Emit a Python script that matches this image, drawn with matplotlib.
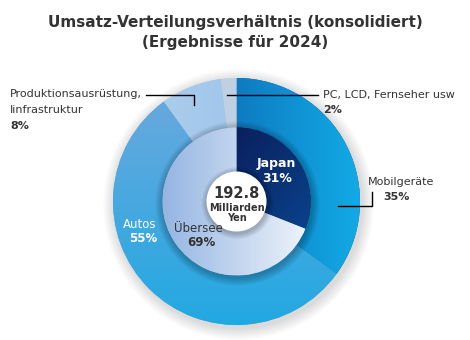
import numpy as np
import matplotlib
matplotlib.use("Agg")
import matplotlib.pyplot as plt
from matplotlib.colors import LinearSegmentedColormap
from matplotlib.patches import Circle

# ---- data ----
title_lines = ["Umsatz-Verteilungsverhältnis (konsolidiert)", "(Ergebnisse für 2024)"]
outer_labels = ["Mobilgeräte", "Autos", "Produktionsausrüstung,\nIinfrastruktur", "PC, LCD, Fernseher usw"]
outer_values = [35, 55, 8, 2]
inner_labels = ["Japan", "Übersee"]
inner_values = [31, 69]
total_value = "192.8"
total_unit = "Milliarden\nYen"

# ---- styling ----
W, H = 470, 340
cx, cy = 236.5, H - 201.5
R_out, R_mid, R_in = 123.5, 74.0, 30.0
outer_grads = [("#0a4c9c", "#12aae6", 0), ("#6ea9dd", "#22a8e2", -90),
               ("#b3d1ee", "#8cbbe6", 0), ("#c6d5e5", "#b8cbe0", 0)]
inner_grads = [("#0a1048", "#0b4a96", -40), ("#95b6e2", "#f0f5fb", 0)]
txt = "#333333"

fig = plt.figure(figsize=(W / 100, H / 100), dpi=100)
ax = fig.add_axes([0, 0, 1, 1])


def grad_fill(patch, c1, c2, ang, R, z):
    n = 200
    xs = np.linspace(cx - R, cx + R, n)
    ys = np.linspace(cy - R, cy + R, n)
    X, Y = np.meshgrid(xs, ys)
    a = np.deg2rad(ang)
    t = (X - cx) * np.cos(a) + (Y - cy) * np.sin(a)
    t = (t - t.min()) / (t.max() - t.min())
    cmap = LinearSegmentedColormap.from_list("g", [c1, c2])
    im = ax.imshow(t, cmap=cmap, extent=(cx - R, cx + R, cy - R, cy + R),
                   origin="lower", zorder=z, interpolation="bilinear")
    im.set_clip_path(patch)


# drop shadow behind outer ring
for i in range(12):
    ax.add_patch(Circle((cx + 2, cy - 3), R_out + 12 - i, color="black",
                        alpha=0.012, lw=0, zorder=0))

w_out, _ = ax.pie(outer_values, radius=R_out, center=(cx, cy), startangle=90,
                  counterclock=False,
                  wedgeprops=dict(width=R_out - R_mid, edgecolor="none"))
for w, (c1, c2, ang) in zip(w_out, outer_grads):
    w.set_facecolor(c1)
    w.set_zorder(1)
    grad_fill(w, c1, c2, ang, R_out, 2)

# shadow of inner pie over outer ring
for i in range(8):
    ax.add_patch(Circle((cx + 1, cy - 2), R_mid + 8 - i, color="black",
                        alpha=0.03, lw=0, zorder=3))

w_in, _ = ax.pie(inner_values, radius=R_mid, center=(cx, cy), startangle=90,
                 counterclock=False, wedgeprops=dict(edgecolor="none"))
for w, (c1, c2, ang) in zip(w_in, inner_grads):
    w.set_facecolor(c1)
    w.set_zorder(4)
    grad_fill(w, c1, c2, ang, R_mid, 5)

# centre circle with shadow
for i in range(6):
    ax.add_patch(Circle((cx + 1, cy - 1.5), R_in + 6 - i, color="black",
                        alpha=0.04, lw=0, zorder=6))
ax.add_patch(Circle((cx, cy), R_in, color="white", lw=0, zorder=7))

ax.set_xlim(0, W)
ax.set_ylim(0, H)
ax.set_aspect("equal")
ax.axis("off")


def Y(y):
    return H - y

# title
ax.text(235, Y(23), title_lines[0], ha="center", va="center", fontsize=11,
        fontweight="bold", color=txt)
ax.text(235, Y(42), title_lines[1], ha="center", va="center", fontsize=11,
        fontweight="bold", color=txt)

# centre
ax.text(cx, Y(194), total_value, ha="center", va="center", fontsize=10.5,
        fontweight="bold", color=txt, zorder=8)
ax.text(cx, Y(213), total_unit, ha="center", va="center", fontsize=7,
        fontweight="bold", color=txt, zorder=8, linespacing=1.0)

# inner labels
ax.text(276, Y(163), inner_labels[0], ha="center", va="center", fontsize=9,
        fontweight="bold", color="white", zorder=8)
ax.text(277, Y(178), f"{inner_values[0]}%", ha="center", va="center", fontsize=9,
        fontweight="bold", color="white", zorder=8)
ax.text(198, Y(228), inner_labels[1], ha="center", va="center", fontsize=8.5,
        color=txt, zorder=8)
ax.text(201, Y(242), f"{inner_values[1]}%", ha="center", va="center", fontsize=8.5,
        fontweight="bold", color=txt, zorder=8)

# outer labels
ax.text(140, Y(224), outer_labels[1], ha="center", va="center", fontsize=8.5,
        color="white", zorder=8)
ax.text(143, Y(239), f"{outer_values[1]}%", ha="center", va="center", fontsize=8.5,
        fontweight="bold", color="white", zorder=8)

ax.text(368, Y(182), outer_labels[0], ha="left", va="center", fontsize=8, color=txt)
ax.text(397, Y(197), f"{outer_values[0]}%", ha="center", va="center", fontsize=8,
        fontweight="bold", color=txt)
ax.plot([338, 372, 372], [Y(206), Y(206), Y(192)], color="black", lw=1, zorder=9)

ax.text(10, Y(94), outer_labels[2].split("\n")[0], ha="left", va="center",
        fontsize=8, color=txt)
ax.text(10, Y(110), outer_labels[2].split("\n")[1], ha="left", va="center",
        fontsize=8, color=txt)
ax.text(10, Y(126), f"{outer_values[2]}%", ha="left", va="center", fontsize=8,
        fontweight="bold", color=txt)
ax.plot([146, 194, 194], [Y(95), Y(95), Y(105)], color="black", lw=1, zorder=9)

ax.text(323, Y(95), outer_labels[3], ha="left", va="center", fontsize=8, color=txt)
ax.text(323, Y(110), f"{outer_values[3]}%", ha="left", va="center", fontsize=8,
        fontweight="bold", color=txt)
ax.plot([227, 318], [Y(95), Y(95)], color="black", lw=1, zorder=9)

fig.savefig("out.png", dpi=100, facecolor="white")
